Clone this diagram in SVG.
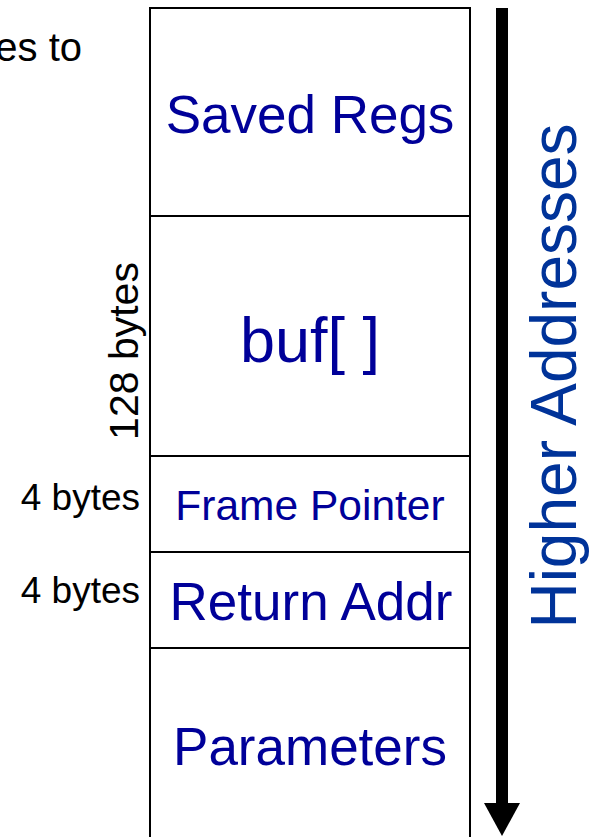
<svg xmlns="http://www.w3.org/2000/svg" width="590" height="837" viewBox="0 0 590 837">
<style>
.box{fill:#fff;stroke:#000;stroke-width:2}
.lbl{font-family:"Liberation Sans",Arial,sans-serif;fill:#000099;text-anchor:middle}
.blk{font-family:"Liberation Sans",Arial,sans-serif;fill:#000}
</style>
<rect width="590" height="837" fill="#fff"/>
<text class="blk" x="82" y="61" font-size="40" text-anchor="end">es to</text>
<g id="saved-regs"><rect class="box" x="150" y="8" width="320" height="208"/><text class="lbl" x="310" y="133" font-size="53">Saved Regs</text></g>
<g id="buf"><rect class="box" x="150" y="216" width="320" height="240"/><text class="lbl" x="310" y="362" font-size="63">buf[ ]</text></g>
<g id="frame-pointer"><rect class="box" x="150" y="456" width="320" height="96"/><text class="lbl" x="310" y="520" font-size="42.5">Frame Pointer</text></g>
<g id="return-addr"><rect class="box" x="150" y="552" width="320" height="96"/><text class="lbl" x="311" y="620" font-size="53">Return Addr</text></g>
<g id="parameters"><rect class="box" x="150" y="648" width="320" height="200"/><text class="lbl" x="310" y="765" font-size="53">Parameters</text></g>
<g id="size-labels">
<text class="blk" font-size="41" text-anchor="middle" transform="translate(138,351) rotate(-90)">128 bytes</text>
<text class="blk" x="140" y="510" font-size="37" text-anchor="end">4 bytes</text>
<text class="blk" x="140" y="603" font-size="37" text-anchor="end">4 bytes</text>
</g>
<g id="connectors">
<rect x="496" y="8" width="12" height="796" fill="#000"/>
<polygon points="484,803 520,803 502,836" fill="#000"/>
</g>
<g id="higher-addresses"><text font-family="Liberation Sans,Arial,sans-serif" font-size="64" fill="#003399" text-anchor="middle" transform="translate(576,376) rotate(-90)">Higher Addresses</text></g>
</svg>
